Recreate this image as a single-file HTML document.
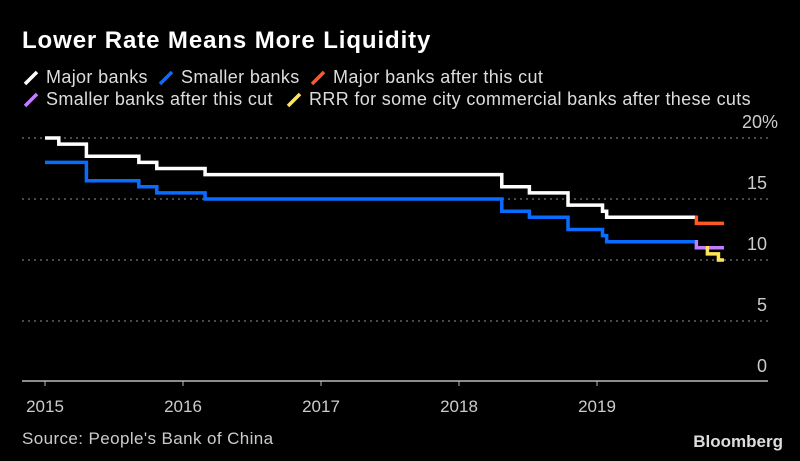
<!DOCTYPE html>
<html><head><meta charset="utf-8"><style>
body{margin:0;background:#000;}
svg{display:block;font-family:"Liberation Sans",sans-serif;}
</style></head><body>
<svg id="chart" width="800" height="461" viewBox="0 0 800 461">
<rect width="800" height="461" fill="#000"/>
<text x="22" y="48" fill="#fff" font-size="24" font-weight="bold" letter-spacing="0.9">Lower Rate Means More Liquidity</text>
<g font-size="18" fill="#ddd" letter-spacing="0.35">
 <g><line x1="25" y1="84" x2="37" y2="72" stroke="#fff" stroke-width="3.5"/><text x="46" y="83">Major banks</text></g>
 <g><line x1="160" y1="84" x2="172" y2="72" stroke="#0a6cff" stroke-width="3.5"/><text x="181" y="83">Smaller banks</text></g>
 <g><line x1="312" y1="84" x2="324" y2="72" stroke="#ff5a24" stroke-width="3.5"/><text x="333" y="83">Major banks after this cut</text></g>
 <g><line x1="25" y1="106" x2="37" y2="94" stroke="#c27cff" stroke-width="3.5"/><text x="46" y="105">Smaller banks after this cut</text></g>
 <g><line x1="288" y1="106" x2="300" y2="94" stroke="#ffe45a" stroke-width="3.5"/><text x="309" y="105">RRR for some city commercial banks after these cuts</text></g>
</g>
<g id="grid"></g>
<g id="yl" font-size="18" fill="#ccc" text-anchor="end"></g>
<g id="xl" font-size="17" fill="#ccc" text-anchor="middle"></g>
<g id="series"></g>
<text x="22" y="444" fill="#ccc" font-size="17" letter-spacing="0.4">Source: People's Bank of China</text>
<text x="783" y="447" fill="#ddd" font-size="17" font-weight="bold" text-anchor="end">Bloomberg</text>
</svg>
<script>
const yTicks=[0,5,10,15,20];
const yTickLabels=["0","5","10","15","20%"];
const xTickYears=[2015,2016,2017,2018,2019];
// Step series: [fractional year, rate]
const majorBanks=[[2015.0,20],[2015.1,19.5],[2015.3,18.5],[2015.68,18],[2015.81,17.5],[2016.16,17],[2018.31,16],[2018.51,15.5],[2018.79,14.5],[2019.04,14],[2019.07,13.5],[2019.71,13.5]];
const smallerBanks=[[2015.0,18],[2015.3,16.5],[2015.68,16],[2015.81,15.5],[2016.16,15],[2018.31,14],[2018.51,13.5],[2018.79,12.5],[2019.04,12],[2019.07,11.5],[2019.71,11.5]];
const majorAfterCut=[[2019.71,13.5],[2019.72,13],[2019.92,13]];
const smallerAfterCut=[[2019.71,11.5],[2019.72,11],[2019.92,11]];
const rrrCityBanks=[[2019.79,11],[2019.80,10.5],[2019.87,10.5],[2019.88,10],[2019.92,10]];

const ns="http://www.w3.org/2000/svg";
const X=y=>45+(y-2015)*138;
const Y=v=>382-v*12.2;
function mk(t,a,p){const e=document.createElementNS(ns,t);for(const k in a)e.setAttribute(k,a[k]);p.appendChild(e);return e;}
const grid=document.getElementById('grid'),yl=document.getElementById('yl'),xl=document.getElementById('xl'),ser=document.getElementById('series');
yTicks.forEach((v,i)=>{
 if(v>0){const g=mk('line',{x1:22,x2:768,y1:Y(v),y2:Y(v),stroke:'#777','stroke-width':1.3,'stroke-dasharray':'2,4'},grid);
 
 }
 const t=mk('text',{x:v===20?778:767,y:Y(v)-10},yl);t.textContent=yTickLabels[i];
 
 
});
const base=mk('line',{x1:22,x2:768,y1:381,y2:381,stroke:'#bbb','stroke-width':1.5},grid);


xTickYears.forEach(yr=>{
 const tk=mk('line',{x1:X(yr),x2:X(yr),y1:381,y2:386,stroke:'#bbb','stroke-width':1},grid);
 
 
 const t=mk('text',{x:X(yr),y:412},xl);t.textContent=yr;
 
 
});
function step(d,c,name){
 let p='M'+X(d[0][0])+' '+Y(d[0][1]);
 for(let i=1;i<d.length;i++){p+=' H'+X(d[i][0])+' V'+Y(d[i][1]);}
 const e=mk('path',{d:p,fill:'none',stroke:c,'stroke-width':3.5,'stroke-linejoin':'miter'},ser);
 
 
}
step(smallerBanks,'#0a6cff','line-smaller-banks');
step(majorBanks,'#fff','line-major-banks');
step(majorAfterCut,'#ff5a24','line-major-after-cut');
step(smallerAfterCut,'#c27cff','line-smaller-after-cut');
step(rrrCityBanks,'#ffe45a','line-rrr-city-banks');
</script>
</body></html>
